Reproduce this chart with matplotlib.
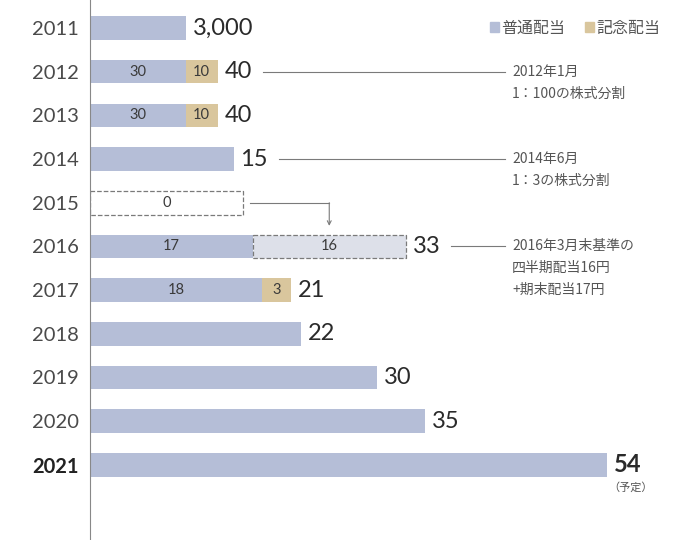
import matplotlib
matplotlib.use("Agg")
import matplotlib.pyplot as plt
from matplotlib.patches import Patch

plt.rcParams["font.family"] = ["Lato", "Noto Sans CJK JP", "DejaVu Sans"]
CJK = ["Noto Sans CJK JP", "DejaVu Sans"]

# dividend per share (yen), as paid
years = [2011, 2012, 2013, 2014, 2015, 2016, 2017, 2018, 2019, 2020, 2021]
regular = [3000, 30, 30, 15, 0, 17, 18, 22, 30, 35, 54]
commemorative = [0, 10, 10, 0, 0, 0, 3, 0, 0, 0, 0]
quarterly = [0, 0, 0, 0, 0, 16, 0, 0, 0, 0, 0]
total_labels = ["3,000", "40", "40", "15", "", "33", "21", "22", "30", "35", "54"]
# cumulative stock split factor (1:100 in 2012, 1:3 in 2014) -> bar lengths on today's basis
split_factor = [300, 3, 3, 1, 1, 1, 1, 1, 1, 1, 1]
moved_year = 2015
moved_value = 16  # quarterly dividend shifted from 2015 to 2016

notes = {
    2012: ["2012年1月", "1：100の株式分割"],
    2014: ["2014年6月", "1：3の株式分割"],
    2016: ["2016年3月末基準の", "四半期配当16円", "+期末配当17円"],
}

BLUE = "#b5bed7"
TAN = "#d9c69d"
LIGHT = "#dde0e9"
GRAY = "#7a7a7a"
TEXT = "#3a3a3a"

fig = plt.figure(figsize=(6.9, 5.4), dpi=100)
ax = fig.add_axes([90 / 690, 0, 600 / 690, 1])

ypos = list(range(len(years)))
reg_adj = [r / f for r, f in zip(regular, split_factor)]
com_adj = [c / f for c, f in zip(commemorative, split_factor)]
h = 0.54

ax.barh(ypos, reg_adj, height=h, color=BLUE)
ax.barh(ypos, com_adj, left=reg_adj, height=h, color=TAN)
for i in ypos:
    if quarterly[i]:
        ax.barh(i, quarterly[i], left=reg_adj[i] + com_adj[i], height=h,
                color=LIGHT, edgecolor=GRAY, linestyle="--", linewidth=0.9)

# 2015: empty dashed box for the skipped dividend
mi = years.index(moved_year)
ax.barh(mi, moved_value, height=h, color="white", edgecolor=GRAY,
        linestyle="--", linewidth=0.9)
ax.text(moved_value / 2, mi, "0", ha="center", va="center", fontsize=10.5, color=TEXT)

# arrow from 2015 box to the quarterly part of 2016
qi = years.index(2016)
qmid = reg_adj[qi] + quarterly[qi] / 2
ax.plot([moved_value + 0.7, qmid], [mi, mi], color=GRAY, lw=0.8)
ax.annotate("", xy=(qmid, qi - h / 2 - 0.2), xytext=(qmid, mi),
            arrowprops=dict(arrowstyle="->", color=GRAY, lw=0.8, mutation_scale=7,
                            shrinkA=0, shrinkB=0))

# segment labels where a bar has more than one part
for i in ypos:
    parts = [(0, reg_adj[i], regular[i]), (reg_adj[i], com_adj[i], commemorative[i]),
             (reg_adj[i] + com_adj[i], quarterly[i], quarterly[i])]
    parts = [p for p in parts if p[2]]
    if len(parts) > 1:
        for left, w, v in parts:
            ax.text(left + w / 2, i, str(v), ha="center", va="center",
                    fontsize=10.5, color=TEXT)

# totals
for i in ypos:
    if not total_labels[i]:
        continue
    end = reg_adj[i] + com_adj[i] + quarterly[i]
    bold = years[i] == 2021
    ax.annotate(total_labels[i], xy=(end, i), xytext=(5, 0), textcoords="offset points",
                ha="left", va="center", fontsize=17, color="#2a2a2a",
                fontweight="bold" if bold else "normal")
    if bold:
        ax.annotate("（予定）", xy=(end, i), xytext=(17, -16), textcoords="offset points",
                    ha="center", va="center", fontsize=8, color="#555555", family=CJK)

# split notes
note_x = 44.1
for yr, lines in notes.items():
    i = years.index(yr)
    end = reg_adj[i] + com_adj[i] + quarterly[i]
    ax.plot([end + 4.7, note_x - 0.7], [i, i], color=GRAY, lw=0.8)
    for k, line in enumerate(lines):
        ax.text(note_x, i + k * 0.5, line, ha="left", va="center",
                fontsize=10, color="#555555", family=CJK)

ax.set_xlim(0, 600 / 9.57)
ax.set_ylim(11.72, -0.64)
ax.set_yticks(ypos)
ax.set_yticklabels([str(y) for y in years], fontsize=14.5, color="#4a4a4a")
ax.get_yticklabels()[-1].set_fontweight("bold")
ax.get_yticklabels()[-1].set_color("#222222")
ax.tick_params(axis="y", length=0, pad=8)
ax.set_xticks([])
for s in ["top", "right", "bottom"]:
    ax.spines[s].set_visible(False)
ax.spines["left"].set_color("#888888")
ax.spines["left"].set_linewidth(0.8)

handles = [Patch(color=BLUE), Patch(color=TAN)]
leg = ax.legend(handles, ["普通配当", "記念配当"], loc="center right",
                bbox_to_anchor=(0.975, 1 - 28 / 540), ncol=2, frameon=False,
                handlelength=0.6, handleheight=0.6, handletextpad=0.15,
                columnspacing=1.2, prop={"family": CJK, "size": 11.5})
for t in leg.get_texts():
    t.set_color("#555555")

fig.savefig("out.png", dpi=100)
